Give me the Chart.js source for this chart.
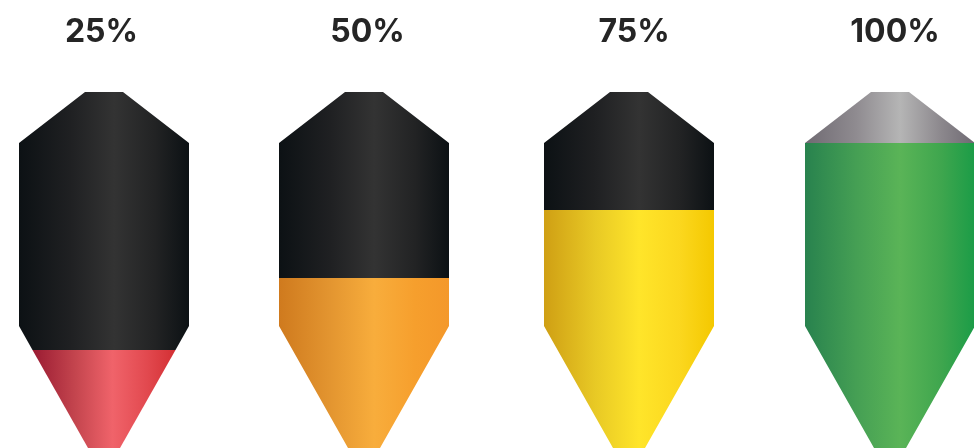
<!DOCTYPE html>
<html>
<head>
<meta charset="utf-8">
<style>html,body{margin:0;padding:0;background:#fff}canvas{display:block}</style>
<script src="https://cdn.jsdelivr.net/npm/chart.js@4"></script>
</head>
<body>
<canvas id="c" width="974" height="448"></canvas>
<script>
const categories = ['25%', '50%', '75%', '100%'];
const labelCenters = [101.5, 367.5, 634, 895];
const siloCenters = [104, 364, 629, 890];
const fillLevels = [98, 170, 238, 305];
const fillHalfWidths = [71.5, 85, 85, 85];
const profileHeights = [0, 122, 305, 356];
const profileHalfWidths = [16, 85, 85, 19];

const stopOffsets = [0, 0.3, 0.56, 0.8, 1];
const fillColors = [
  ['#9a1b32', '#c4454e', '#f0636a', '#e2494f', '#d32f33'],
  ['#cf7a1e', '#e39530', '#f8ad3c', '#f69f2d', '#f4982a'],
  ['#cf9f14', '#e8c925', '#ffe52a', '#fbd71e', '#f4c800'],
  ['#28824e', '#459f54', '#5ab457', '#3fa64e', '#1b9c47']
];
const emptyColors = [
  ['#0c1114', '#1f2022', '#333333', '#222324', '#0c1114'],
  ['#0c1114', '#1f2022', '#333333', '#222324', '#0c1114'],
  ['#0c1114', '#1f2022', '#333333', '#222324', '#0c1114'],
  ['#6f6a72', '#8f8b90', '#b5b5b5', '#8c888d', '#6e6972']
];

const AXIS_HEIGHT = 62;
const CANVAS_W = 974, CANVAS_H = 448;

function gradientFor(colors) {
  return function (ctx) {
    const chart = ctx.chart;
    const pts = ctx.dataset.data;
    if (!chart.chartArea || !pts) return colors[2];
    const xs = pts.map(p => chart.scales.x.getPixelForValue(p.x));
    const g = chart.ctx.createLinearGradient(Math.min(...xs), 0, Math.max(...xs), 0);
    stopOffsets.forEach((o, i) => g.addColorStop(o, colors[i]));
    return g;
  };
}

function polygon(i, above) {
  const c = siloCenters[i], lvl = fillLevels[i], hw = fillHalfWidths[i];
  const left = [], right = [];
  profileHeights.forEach((h, k) => {
    if (above ? h > lvl : h < lvl) {
      left.push({ x: c - profileHalfWidths[k], y: h });
      right.push({ x: c + profileHalfWidths[k], y: h });
    }
  });
  const edgeL = { x: c - hw, y: lvl }, edgeR = { x: c + hw, y: lvl };
  return above
    ? [edgeL, ...left, ...right.reverse(), edgeR]
    : [edgeL, ...left.reverse(), ...right, edgeR];
}

const datasets = [];
categories.forEach((name, i) => {
  datasets.push({ label: name + ' empty', data: polygon(i, true), showLine: true, fill: 'shape', tension: 0,
    pointRadius: 0, borderWidth: 0, backgroundColor: gradientFor(emptyColors[i]) });
  datasets.push({ label: name + ' filled', data: polygon(i, false), showLine: true, fill: 'shape', tension: 0,
    pointRadius: 0, borderWidth: 0, backgroundColor: gradientFor(fillColors[i]) });
});

new Chart(document.getElementById('c'), {
  type: 'scatter',
  data: { datasets },
  options: {
    responsive: false,
    animation: false,
    devicePixelRatio: 1,
    layout: { padding: 0 },
    plugins: { legend: { display: false }, tooltip: { enabled: false }, title: { display: false } },
    scales: {
      x: {
        type: 'linear', position: 'top', min: 0, max: CANVAS_W,
        grid: { display: false, drawTicks: false }, border: { display: false },
        afterBuildTicks: s => { s.ticks = labelCenters.map(v => ({ value: v })); },
        afterFit: s => { s.height = AXIS_HEIGHT; },
        ticks: {
          autoSkip: false, maxRotation: 0, minRotation: 0, padding: 10,
          color: '#252525',
          font: { family: 'Inter', size: 32, weight: '700' },
          callback: (v, i) => categories[i]
        }
      },
      y: { type: 'linear', display: false, min: 0, max: CANVAS_H - AXIS_HEIGHT }
    }
  }
});
</script>
</body>
</html>
